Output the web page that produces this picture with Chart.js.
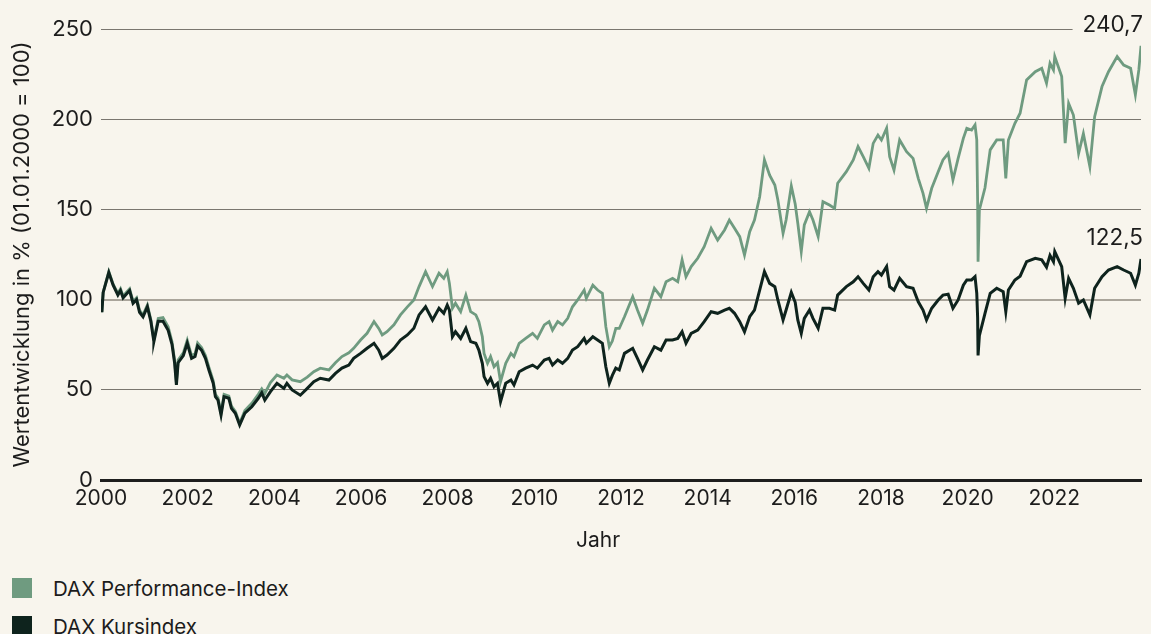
<!DOCTYPE html>
<html lang="de">
<head>
<meta charset="utf-8">
<title>DAX Performance-Index und DAX Kursindex</title>
<script src="https://cdn.jsdelivr.net/npm/chart.js@4.4.1/dist/chart.umd.min.js"></script>
<style>
  html, body { margin: 0; padding: 0; background: #f8f5ed; }
  body {
    width: 1151px; height: 634px; overflow: hidden; position: relative;
    font-family: Inter, "Noto Sans", sans-serif; color: #1c1c1c;
  }
  #chartBox { position: absolute; left: 0; top: 0; width: 1151px; height: 560px; }
  .x-title { position: absolute; left: 548px; width: 100px; top: 527px; text-align: center; font-size: 21px; }
  .legend { position: absolute; left: 12px; top: 578px; }
  .legend-item { display: flex; align-items: center; height: 20px; margin-bottom: 18px; font-size: 20.5px; }
  .swatch { width: 20px; height: 20px; margin-right: 21px; }
</style>
</head>
<body>
<div id="chartBox"><canvas id="daxChart" width="1151" height="560"></canvas></div>
<div class="x-title">Jahr</div>
<div class="legend">
  <div class="legend-item"><span class="swatch" style="background:#6f9b80"></span>DAX Performance-Index</div>
  <div class="legend-item"><span class="swatch" style="background:#0e231d"></span>DAX Kursindex</div>
</div>

<script>
// ========== DATA (01.01.2000 = 100) ==========
const years = [
  2000.00, 2000.02, 2000.05, 2000.18, 2000.28, 2000.39, 2000.45, 2000.51, 2000.66, 2000.74,
  2000.82, 2000.89, 2000.97, 2001.07, 2001.15, 2001.20, 2001.22, 2001.32, 2001.43, 2001.55,
  2001.64, 2001.70, 2001.74, 2001.78, 2001.90, 2001.99, 2002.09, 2002.17, 2002.23, 2002.32,
  2002.41, 2002.49, 2002.59, 2002.64, 2002.70, 2002.77, 2002.84, 2002.95, 2003.01, 2003.10,
  2003.20, 2003.32, 2003.48, 2003.63, 2003.71, 2003.78, 2003.91, 2004.06, 2004.22, 2004.29,
  2004.41, 2004.60, 2004.76, 2004.91, 2005.06, 2005.26, 2005.41, 2005.56, 2005.72, 2005.83,
  2005.99, 2006.14, 2006.30, 2006.41, 2006.49, 2006.60, 2006.76, 2006.91, 2007.07, 2007.22,
  2007.34, 2007.49, 2007.65, 2007.80, 2007.91, 2007.99, 2008.04, 2008.11, 2008.18, 2008.30,
  2008.42, 2008.53, 2008.65, 2008.72, 2008.80, 2008.84, 2008.92, 2008.99, 2009.07, 2009.15,
  2009.22, 2009.34, 2009.46, 2009.53, 2009.65, 2009.80, 2009.96, 2010.07, 2010.23, 2010.34,
  2010.42, 2010.54, 2010.65, 2010.77, 2010.88, 2011.00, 2011.15, 2011.20, 2011.35, 2011.46,
  2011.57, 2011.65, 2011.73, 2011.80, 2011.88, 2011.96, 2012.08, 2012.27, 2012.38, 2012.50,
  2012.61, 2012.77, 2012.92, 2013.04, 2013.19, 2013.31, 2013.41, 2013.50, 2013.62, 2013.77,
  2013.92, 2014.08, 2014.23, 2014.39, 2014.50, 2014.62, 2014.74, 2014.85, 2014.97, 2015.08,
  2015.20, 2015.31, 2015.43, 2015.55, 2015.62, 2015.74, 2015.81, 2015.93, 2016.02, 2016.08,
  2016.16, 2016.23, 2016.35, 2016.43, 2016.55, 2016.66, 2016.81, 2016.93, 2017.00, 2017.20,
  2017.36, 2017.47, 2017.59, 2017.72, 2017.82, 2017.93, 2018.01, 2018.13, 2018.20, 2018.30,
  2018.43, 2018.59, 2018.74, 2018.86, 2018.97, 2019.05, 2019.17, 2019.32, 2019.43, 2019.55,
  2019.66, 2019.78, 2019.90, 2019.98, 2020.09, 2020.17, 2020.21, 2020.23, 2020.24, 2020.27,
  2020.40, 2020.52, 2020.67, 2020.82, 2020.88, 2020.94, 2021.09, 2021.21, 2021.36, 2021.56,
  2021.71, 2021.82, 2021.90, 2021.98, 2022.01, 2022.17, 2022.25, 2022.33, 2022.44, 2022.56,
  2022.67, 2022.82, 2022.93, 2023.10, 2023.25, 2023.45, 2023.60, 2023.76, 2023.87, 2023.95,
  2024.00
];

const perfIndex = [
  100, 93, 104, 115.5, 108.5, 103.5, 106, 102, 106, 99,
  101, 94, 91.5, 97, 89, 81, 77.5, 89.5, 90, 85,
  76.5, 66, 54, 66.5, 70.5, 77.5, 69, 70, 76, 73.5,
  69, 62.5, 55, 47.5, 45.5, 37, 47.5, 46.5, 41, 38,
  31.5, 38.5, 42.5, 47.5, 50.5, 48, 54, 58.2, 56.4, 58.2,
  55.5, 54.5, 57, 60, 62, 61, 65, 68.4, 70.5, 73,
  77.6, 81.3, 87.8, 84, 80.4, 82.2, 86, 91.5, 96, 99.8,
  107.2, 115.5, 107.2, 114.6, 111.8, 115.5, 109, 95.2, 98, 93.3,
  102.5, 93.3, 91.5, 87.8, 79.4, 70.2, 64.7, 68.4, 62.8, 65,
  54.5, 64.7, 70.2, 68.4, 75.8, 78.5, 81.3, 78.5, 86, 87.8,
  83.1, 87.8, 86, 89.6, 96, 99.8, 105.3, 100.7, 108, 105.3,
  103.5, 85, 73.9, 77, 84, 84, 90.5, 101.6, 94.2, 86.9,
  94.2, 106.3, 101.6, 109.9, 111.8, 109.9, 122, 112.7, 118.3, 122.9,
  129.3, 139.5, 133, 138.6, 144.1, 139.5, 134.9, 124.7, 137.6, 144.1,
  157, 177.4, 169, 163.5, 155.2, 136.7, 144.1, 163, 153, 142.3,
  126.6, 141.4, 148.7, 144.1, 134.9, 154.3, 152.4, 150.6, 164.5, 170.9,
  177.4, 184.8, 179.2, 172.8, 186.6, 191.2, 188.5, 195, 179.2, 171.8,
  188.5, 182, 178.3, 167.2, 158.9, 150.6, 161.7, 170.9, 177.4, 181.1,
  166.3, 178.3, 189.4, 195, 194, 196.8, 188.5, 155, 121, 149.7,
  162, 183, 188.5, 188.5, 167.2, 188.5, 197.7, 203.3, 221.7, 226.3,
  228.2, 220, 231, 227.3, 234.7, 223.6, 186.7, 208.8, 202.3, 181,
  192, 173.7, 201.4, 218.1, 226.3, 234.7, 230, 228.2, 213.5, 227.3,
  240.7
];

const kursIndex = [
  100, 93, 104, 115, 108, 102.5, 105, 101, 105, 98,
  100, 93, 90.5, 96, 88, 80, 76.7, 88, 88, 83,
  75, 64.7, 52.7, 65, 69, 75.8, 67.4, 68.4, 74.3, 72,
  67.4, 61, 53.6, 46.2, 44.3, 36, 46.2, 45.3, 39.7, 37,
  30.5, 37, 40.6, 45.3, 48.4, 44.3, 49, 53.6, 50.8, 53.6,
  49.9, 47, 50.8, 54.5, 56.4, 55.4, 59.1, 62, 63.7, 67.4,
  70.2, 73, 75.8, 72, 67.4, 69.3, 73, 77.6, 80.4, 84.1,
  91.5, 96, 88.7, 95.2, 92.4, 97, 94.2, 79.4, 82.2, 78.5,
  84.1, 76.7, 75.8, 72, 64.7, 57.3, 53.6, 56.4, 51.7, 53.6,
  43.4, 53.6, 55.4, 52.7, 60, 62, 63.7, 62, 66.5, 67.4,
  63.7, 66.5, 64.7, 67.4, 72, 73.9, 78.5, 75.8, 79.4, 77.6,
  75.8, 62.8, 53.6, 58, 62, 61, 70.2, 73, 67.4, 61,
  66.5, 73.9, 72, 77.6, 77.6, 78.5, 82.2, 75.8, 81.3, 83.1,
  87.8, 93.3, 92.4, 94.2, 95.2, 92.4, 87.8, 82.2, 90.5, 94.2,
  105.3, 115.5, 109, 107.2, 99.8, 88.7, 94.2, 104, 98.5, 88.7,
  81.3, 89.6, 94.2, 89.6, 84.1, 95.2, 95.2, 94.2, 102.5, 107.2,
  109.9, 112.7, 109, 105.3, 112.7, 115.5, 113.6, 118.3, 107.2, 105.3,
  111.8, 107.2, 106.3, 98.8, 94.2, 88.7, 95.2, 99.8, 102.5, 103,
  95.2, 99.8, 108, 110.9, 110.9, 112.7, 103.5, 90, 69, 80,
  92.4, 103.5, 106.3, 104.4, 93.3, 105.3, 110.9, 113, 121, 122.9,
  122, 118, 124.5, 121, 126.6, 118.3, 100.7, 111.8, 106.3, 98,
  99.8, 91.5, 106.3, 112.7, 116.4, 118.3, 116.4, 114.6, 108, 114.6,
  122.5
];

const yearTicks = [2000, 2002, 2004, 2006, 2008, 2010, 2012, 2014, 2016, 2018, 2020, 2022];
const valueTicks = [0, 50, 100, 150, 200, 250];

// ========== STYLE ==========
const BG = '#f8f5ed';
const GREEN = '#6f9b80';
const DARK = '#0e231d';
const TEXT = '#1c1c1c';
const FONT = 'Inter, "Noto Sans", sans-serif';

Chart.defaults.font.family = FONT;
Chart.defaults.color = TEXT;

// last value printed above the end of each line
const endLabels = {
  id: 'endLabels',
  afterDatasetsDraw(chart) {
    const c = chart.ctx;
    const right = chart.chartArea.right + 2;
    c.save();
    c.font = '22.5px ' + FONT;
    c.textAlign = 'right';
    c.textBaseline = 'middle';
    chart.data.datasets.forEach((ds, i) => {
      const pts = chart.getDatasetMeta(i).data;
      const p = pts[pts.length - 1];
      const last = ds.data[ds.data.length - 1].y;
      const text = last.toLocaleString('de-DE', { minimumFractionDigits: 1 });
      const w = c.measureText(text).width;
      const y = p.y - 21;
      c.fillStyle = BG;
      c.fillRect(right - w - 10, y - 12, w + 12, 24);
      c.fillStyle = TEXT;
      c.fillText(text, right, y);
    });
    c.restore();
  }
};

const toPoints = arr => years.map((x, i) => ({ x, y: arr[i] }));

new Chart(document.getElementById('daxChart'), {
  type: 'line',
  data: {
    datasets: [
      {
        label: 'DAX Kursindex',
        data: toPoints(kursIndex),
        borderColor: DARK,
        borderWidth: 3,
        pointRadius: 0,
        tension: 0,
        order: 0
      },
      {
        label: 'DAX Performance-Index',
        data: toPoints(perfIndex),
        borderColor: GREEN,
        borderWidth: 2.8,
        pointRadius: 0,
        tension: 0,
        order: 1
      }
    ]
  },
  options: {
    responsive: false,
    animation: false,
    layout: { padding: { top: 29, right: 10, left: 0, bottom: 0 } },
    plugins: {
      legend: { display: false },
      tooltip: { enabled: false }
    },
    scales: {
      x: {
        type: 'linear',
        min: 2000,
        max: 2024,
        afterFit: s => { s.height = 80; },
        afterBuildTicks: s => { s.ticks = yearTicks.map(v => ({ value: v })); },
        ticks: {
          padding: 6,
          color: TEXT,
          font: { size: 21 },
          maxRotation: 0,
          autoSkip: false,
          callback: v => String(v)
        },
        grid: { display: false, drawTicks: false },
        border: { display: true, color: '#1e1e1e', width: 3 }
      },
      y: {
        min: 0,
        max: 250,
        afterFit: s => { s.width = 101; },
        afterBuildTicks: s => { s.ticks = valueTicks.map(v => ({ value: v })); },
        ticks: { padding: 8, color: TEXT, font: { size: 22 } },
        grid: {
          drawTicks: false,
          color: c => c.tick.value === 0 ? 'rgba(0,0,0,0)'
            : (c.tick.value === 100 ? '#aaa59b' : '#7a766f'),
          lineWidth: c => c.tick.value === 100 ? 2 : 1
        },
        border: { display: false },
        title: {
          display: true,
          text: 'Wertentwicklung in % (01.01.2000 = 100)',
          color: TEXT,
          font: { size: 22 },
          padding: { top: 9, bottom: 9 }
        }
      }
    }
  },
  plugins: [endLabels]
});
</script>
</body>
</html>
